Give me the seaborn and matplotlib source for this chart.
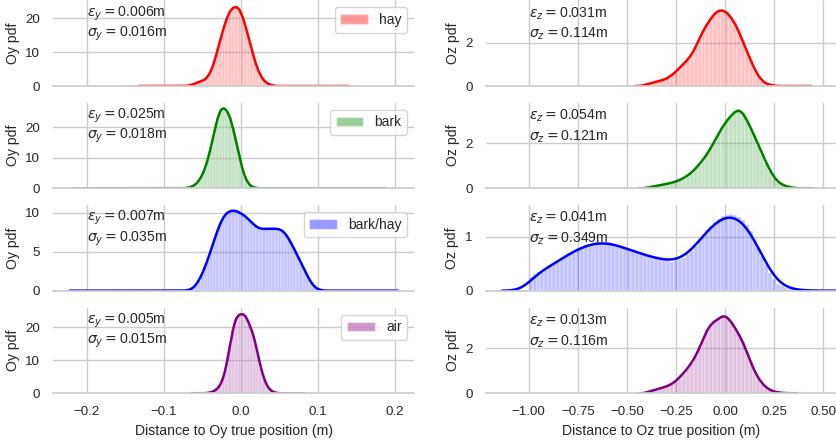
import numpy as np
import pandas as pd
import seaborn as sns
import matplotlib.pyplot as plt
from matplotlib.patches import Patch
from matplotlib.transforms import blended_transform_factory

# Materiales y colores
MATERIALES = ['hay', 'bark', 'bark/hay', 'air']
COLORES = ['red', 'green', 'blue', 'purple']

# Error medio y desviacion (m)
EPS_Y = ['0.006', '0.025', '0.007', '0.005']
SIG_Y = ['0.016', '0.018', '0.035', '0.015']
EPS_Z = ['0.031', '0.054', '0.041', '0.013']
SIG_Z = ['0.114', '0.121', '0.349', '0.116']

# Histogramas: inicio del primer bin, ancho, pdf por bin
OY_BIN = 0.004
OZ_BIN = 0.02

hay_y_start = -0.068
hay_y_pdf = [0.25, 0.50, 0.85, 1.20, 1.50, 2.00, 3.00, 4.80, 7.40, 10.80,
             14.20, 17.40, 20.20, 22.20, 23.20, 23.50, 22.80, 20.80, 17.80, 14.40,
             10.80, 7.60, 4.90, 2.90, 1.60, 0.80, 0.40, 0.15]
hay_y_out = [-0.1255, 0.132]

bark_y_start = -0.072
bark_y_pdf = [0.10, 0.35, 0.75, 1.40, 2.60, 4.30, 6.80, 10.20, 14.30, 19.00,
              23.10, 25.90, 26.40, 25.50, 23.30, 19.60, 15.20, 10.60, 6.30, 3.30,
              1.50, 0.55, 0.20, 0.05]
bark_y_out = [-0.2095, 0.1805]

barkhay_y_start = -0.072
barkhay_y_pdf = [0.03, 0.10, 0.30, 0.70, 1.35, 2.15, 3.10, 4.20, 5.45, 6.70,
                 7.80, 8.85, 9.60, 10.05, 10.25, 10.30, 10.25, 10.05, 9.80, 9.55,
                 9.15, 8.75, 8.35, 8.05, 7.90, 7.90, 7.95, 7.95, 7.95, 7.95,
                 7.90, 7.75, 7.35, 6.70, 5.95, 5.20, 4.40, 3.60, 2.75, 1.95,
                 1.20, 0.60, 0.25, 0.10, 0.03]
barkhay_y_out = [-0.210, 0.1915]

air_y_start = -0.044
air_y_pdf = [0.15, 0.35, 0.75, 1.40, 2.70, 5.00, 9.20, 14.60, 19.80, 23.00,
             23.80, 24.00, 23.60, 21.40, 19.20, 16.20, 11.80, 7.60, 4.40, 2.20,
             0.95, 0.40, 0.12]
air_y_out = [-0.0556, 0.0742]

hay_z_start = -0.42
hay_z_pdf = [0.05, 0.10, 0.15, 0.19, 0.24, 0.29, 0.38, 0.50, 0.67, 0.85,
             1.03, 1.22, 1.45, 1.78, 2.22, 2.58, 2.88, 3.15, 3.38, 3.52,
             3.50, 3.40, 3.18, 2.90, 2.52, 2.08, 1.62, 1.20, 0.78, 0.45,
             0.22, 0.10, 0.05, 0.02]
hay_z_out = [0.393]

bark_z_start = -0.40
bark_z_pdf = [0.04, 0.07, 0.11, 0.14, 0.17, 0.21, 0.25, 0.30, 0.37, 0.46,
              0.57, 0.70, 0.88, 1.08, 1.30, 1.53, 1.83, 2.15, 2.48, 2.78,
              3.02, 3.22, 3.42, 3.52, 3.38, 3.05, 2.70, 2.32, 1.92, 1.52,
              1.12, 0.78, 0.48, 0.28, 0.16, 0.09, 0.05, 0.02]
bark_z_out = [0.398]

barkhay_z_start = -1.00
barkhay_z_pdf = [0.25, 0.30, 0.34, 0.38, 0.42, 0.45, 0.50, 0.55, 0.60, 0.65,
                 0.69, 0.73, 0.77, 0.80, 0.84, 0.86, 0.88, 0.90, 0.89, 0.88,
                 0.90, 0.86, 0.84, 0.82, 0.79, 0.76, 0.74, 0.71, 0.69, 0.66,
                 0.64, 0.62, 0.61, 0.58, 0.57, 0.55, 0.54, 0.56, 0.58, 0.61,
                 0.67, 0.74, 0.83, 0.93, 1.03, 1.12, 1.20, 1.27, 1.33, 1.38,
                 1.40, 1.42, 1.40, 1.36, 1.30, 1.22, 1.10, 0.96, 0.80, 0.64,
                 0.47, 0.33, 0.21, 0.13, 0.08, 0.05, 0.03, 0.02, 0.01, 0.01]
barkhay_z_out = [0.43]

air_z_start = -0.40
air_z_pdf = [0.08, 0.12, 0.17, 0.22, 0.27, 0.33, 0.42, 0.55, 0.72, 0.92,
             1.12, 1.36, 1.65, 2.02, 2.45, 2.85, 3.10, 3.22, 3.32, 3.48,
             3.40, 3.20, 2.92, 2.62, 2.30, 1.85, 1.40, 0.98, 0.66, 0.42,
             0.25, 0.14, 0.07, 0.04, 0.02]
air_z_out = [0.320]

# ultimo valor: ancho de banda del KDE (m)
DATOS_Y = [(hay_y_start, hay_y_pdf, hay_y_out, 0.0025),
           (bark_y_start, bark_y_pdf, bark_y_out, 0.0025),
           (barkhay_y_start, barkhay_y_pdf, barkhay_y_out, 0.004),
           (air_y_start, air_y_pdf, air_y_out, 0.0028)]
DATOS_Z = [(hay_z_start, hay_z_pdf, hay_z_out, 0.016),
           (bark_z_start, bark_z_pdf, bark_z_out, 0.017),
           (barkhay_z_start, barkhay_z_pdf, barkhay_z_out, 0.049),
           (air_z_start, air_z_pdf, air_z_out, 0.016)]

YLIM_Y = [25.3, 28.0, 10.96, 25.8]
YLIM_Z = [3.95, 3.80, 1.583, 3.80]
YTICKS_Y = [[0, 10, 20], [0, 10, 20], [0, 5, 10], [0, 10, 20]]
YTICKS_Z = [[0, 2], [0, 2], [0, 1], [0, 2]]


def dibujar(ax, inicio, ancho, pdf, atipicos, color, bw):
    pdf = np.asarray(pdf)
    bordes = inicio + ancho * np.arange(len(pdf) + 1)
    centros = bordes[:-1] + ancho / 2
    df = pd.DataFrame({
        'x': np.concatenate([centros, atipicos]),
        'w': np.concatenate([pdf, np.full(len(atipicos), 0.01)]),
    })
    # la forma del KDE usa la desviacion con pesos, la rejilla la de sin pesos
    std_w = np.sqrt(np.cov(df['x'], aweights=df['w']))
    std_u = np.std(df['x'], ddof=1)
    factor = bw / std_w
    corte = 3 * std_w / std_u
    sns.histplot(data=df, x='x', weights='w', bins=list(bordes), stat='count',
                 kde=True, color=color, alpha=0.24, edgecolor='white',
                 linewidth=0.25,
                 kde_kws={'cut': corte, 'bw_method': factor, 'gridsize': 1500},
                 line_kws={'linewidth': 1.8}, ax=ax)


sns.set_theme(style='whitegrid')
plt.rcParams['font.family'] = ['Liberation Sans', 'DejaVu Sans']
plt.rcParams['xtick.labelsize'] = 9.6
plt.rcParams['ytick.labelsize'] = 9.6
plt.rcParams['axes.labelsize'] = 10.1

fig, axes = plt.subplots(4, 2, figsize=(8.37, 4.44), dpi=100, sharex='col')

bottoms = [0.8063, 0.5759, 0.3453, 0.1142]
alto = 0.1926

for i in range(4):
    ax_y, ax_z = axes[i, 0], axes[i, 1]
    ax_y.set_position([0.0637, bottoms[i], 0.431, alto])
    ax_z.set_position([0.5803, bottoms[i], 0.4197, alto])

    inicio, pdf, atip, bw = DATOS_Y[i]
    dibujar(ax_y, inicio, OY_BIN, pdf, atip, COLORES[i], bw)
    inicio, pdf, atip, bw = DATOS_Z[i]
    dibujar(ax_z, inicio, OZ_BIN, pdf, atip, COLORES[i], bw)

    ax_y.set_xlim(-0.2431, 0.2246)
    ax_z.set_xlim(-1.219, 0.570)
    ax_y.set_ylim(0, YLIM_Y[i])
    ax_z.set_ylim(0, YLIM_Z[i])
    ax_y.set_yticks(YTICKS_Y[i])
    ax_z.set_yticks(YTICKS_Z[i])
    ax_y.set_ylabel('Oy pdf')
    ax_z.set_ylabel('Oz pdf')
    ax_y.set_xlabel('')
    ax_z.set_xlabel('')

    tr_y = blended_transform_factory(ax_y.transData, ax_y.transAxes)
    tr_z = blended_transform_factory(ax_z.transData, ax_z.transAxes)
    ax_y.text(-0.2, 0.848, r'$\epsilon_y = $' + EPS_Y[i] + 'm', transform=tr_y,
              va='center', fontsize=10.1)
    ax_y.text(-0.2, 0.608, r'$\sigma_y = $' + SIG_Y[i] + 'm', transform=tr_y,
              va='center', fontsize=10.1)
    ax_z.text(-1.0, 0.848, r'$\epsilon_z = $' + EPS_Z[i] + 'm', transform=tr_z,
              va='center', fontsize=10.1)
    ax_z.text(-1.0, 0.608, r'$\sigma_z = $' + SIG_Z[i] + 'm', transform=tr_z,
              va='center', fontsize=10.1)

    ax_y.legend(handles=[Patch(facecolor=COLORES[i], alpha=0.4, label=MATERIALES[i])],
                loc='upper right', fontsize=10)

    sns.despine(ax=ax_y, left=True)
    sns.despine(ax=ax_z, left=True)

axes[3, 0].set_xticks([-0.2, -0.1, 0.0, 0.1, 0.2])
axes[3, 1].set_xticks([-1.0, -0.75, -0.5, -0.25, 0.0, 0.25, 0.5])
axes[3, 0].set_xlabel('Distance to Oy true position (m)')
axes[3, 1].set_xlabel('Distance to Oz true position (m)')

plt.savefig('out.png', dpi=100)
plt.close()
